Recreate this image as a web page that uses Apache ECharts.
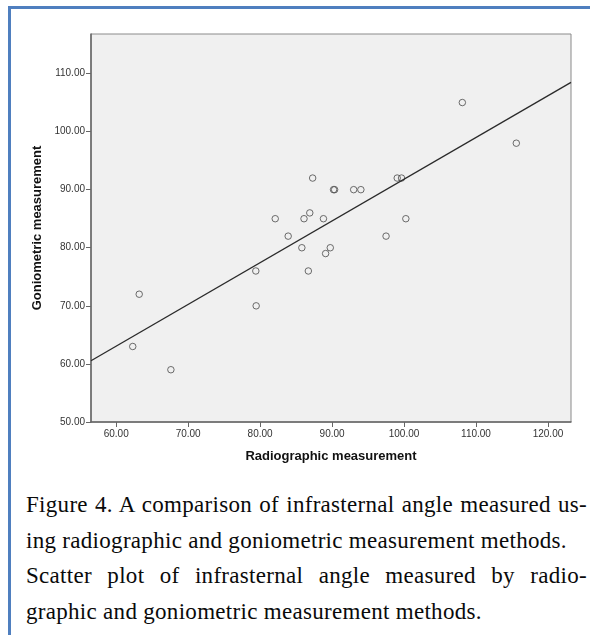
<!DOCTYPE html>
<html>
<head>
<meta charset="utf-8">
<script src="https://cdn.jsdelivr.net/npm/echarts@6/dist/echarts.min.js"></script>
<style>
  html, body {
    margin: 0;
    padding: 0;
    background: #ffffff;
  }
  .frame {
    position: absolute;
    left: 8px;
    top: 6px;
    width: 582px;
    height: 629px;
    border-left: 3px solid #4f7fbf;
    border-top: 3px solid #4f7fbf;
    box-sizing: border-box;
  }
  #scatterChart {
    position: absolute;
    left: 0;
    top: 0;
    width: 590px;
    height: 470px;
  }
  .caption {
    position: absolute;
    left: 26px;
    top: 487px;
    width: 561px;
    font-family: "Liberation Serif", "Times New Roman", serif;
    font-size: 23px;
    letter-spacing: 0.3px;
    line-height: 35.5px;
    color: #0a0a0a;
  }
  .caption div {
    white-space: nowrap;
  }
  .caption .just {
    text-align: justify;
    text-align-last: justify;
  }
</style>
</head>
<body>
<div class="frame"></div>
<div id="scatterChart"></div>
<div class="caption">
  <div class="just">Figure 4. A comparison of infrasternal angle measured us-</div>
  <div>ing radiographic and goniometric measurement methods.</div>
  <div class="just">Scatter plot of infrasternal angle measured by radio-</div>
  <div>graphic and goniometric measurement methods.</div>
</div>
<script>
// values
const radiographic = [62.3, 63.2, 67.6, 79.4, 79.45, 82.1, 83.9, 85.8, 86.1, 86.9, 86.7, 88.8, 89.1,
  89.75, 87.3, 90.2, 90.35, 93.0, 94.0, 99.05, 99.65, 100.25, 97.5, 108.1, 115.6];
const goniometric = [63, 72, 59, 76, 70, 85, 82, 80, 85, 86, 76, 85, 79,
  80, 92, 90, 90, 90, 90, 92, 92, 85, 82, 105, 98];

const xTicks = [60, 70, 80, 90, 100, 110, 120];
const yTicks = [50, 60, 70, 80, 90, 100, 110];
const xRange = [56.5, 123.2];
const yRange = [50, 116.8];

// least squares fit line, same as the spss fit line
function fitLine(xs, ys) {
  const n = xs.length;
  const mx = xs.reduce((a, b) => a + b, 0) / n;
  const my = ys.reduce((a, b) => a + b, 0) / n;
  let sxy = 0, sxx = 0;
  for (let i = 0; i < n; i++) {
    sxy += (xs[i] - mx) * (ys[i] - my);
    sxx += (xs[i] - mx) * (xs[i] - mx);
  }
  const slope = sxy / sxx;
  return { slope, intercept: my - slope * mx };
}

const fit = fitLine(radiographic, goniometric);
const fitData = xRange.map((x) => [x, fit.intercept + fit.slope * x]);
const points = radiographic.map((x, i) => [x, goniometric[i]]);

const labelStyle = {
  color: "#333",
  fontSize: 10,
  fontFamily: "Liberation Sans, Arial, sans-serif",
  formatter: (v) => v.toFixed(2),
};
const nameStyle = {
  color: "#111",
  fontSize: 13,
  fontWeight: "bold",
  fontFamily: "Liberation Sans, Arial, sans-serif",
};

let myChart = echarts.init(document.getElementById("scatterChart"), null, { renderer: "canvas" });
myChart.setOption({
  animation: false,
  grid: {
    left: 91,
    right: 19,
    top: 34,
    bottom: 48,
    show: true,
    backgroundColor: "#f0f0f0",
    borderColor: "#8a8a8a",
    borderWidth: 1,
  },
  xAxis: {
    type: "value",
    min: xRange[0],
    max: xRange[1],
    name: "Radiographic measurement",
    nameLocation: "middle",
    nameGap: 28,
    nameTextStyle: nameStyle,
    axisLine: { lineStyle: { color: "#666", width: 1.5 } },
    axisTick: {
      show: true,
      length: 5,
      customValues: xTicks,
      lineStyle: { color: "#666" },
    },
    axisLabel: Object.assign({ margin: 7, customValues: xTicks }, labelStyle),
    splitLine: { show: false },
  },
  yAxis: {
    type: "value",
    min: yRange[0],
    max: yRange[1],
    name: "Goniometric measurement",
    nameLocation: "middle",
    nameGap: 45,
    nameTextStyle: nameStyle,
    axisLine: { show: true, lineStyle: { color: "#666", width: 1.5 } },
    axisTick: {
      show: true,
      length: 5,
      customValues: yTicks,
      lineStyle: { color: "#666" },
    },
    axisLabel: Object.assign({ margin: 6, customValues: yTicks }, labelStyle),
    splitLine: { show: false },
  },
  series: [
    {
      type: "line",
      data: fitData,
      symbol: "none",
      silent: true,
      lineStyle: { color: "#2a2a2a", width: 1.3 },
    },
    {
      type: "scatter",
      data: points,
      symbol: "circle",
      symbolSize: 6.5,
      itemStyle: {
        color: "rgba(0,0,0,0)",
        borderColor: "#4a4a4a",
        borderWidth: 1,
      },
    },
  ],
});
</script>
</body>
</html>
